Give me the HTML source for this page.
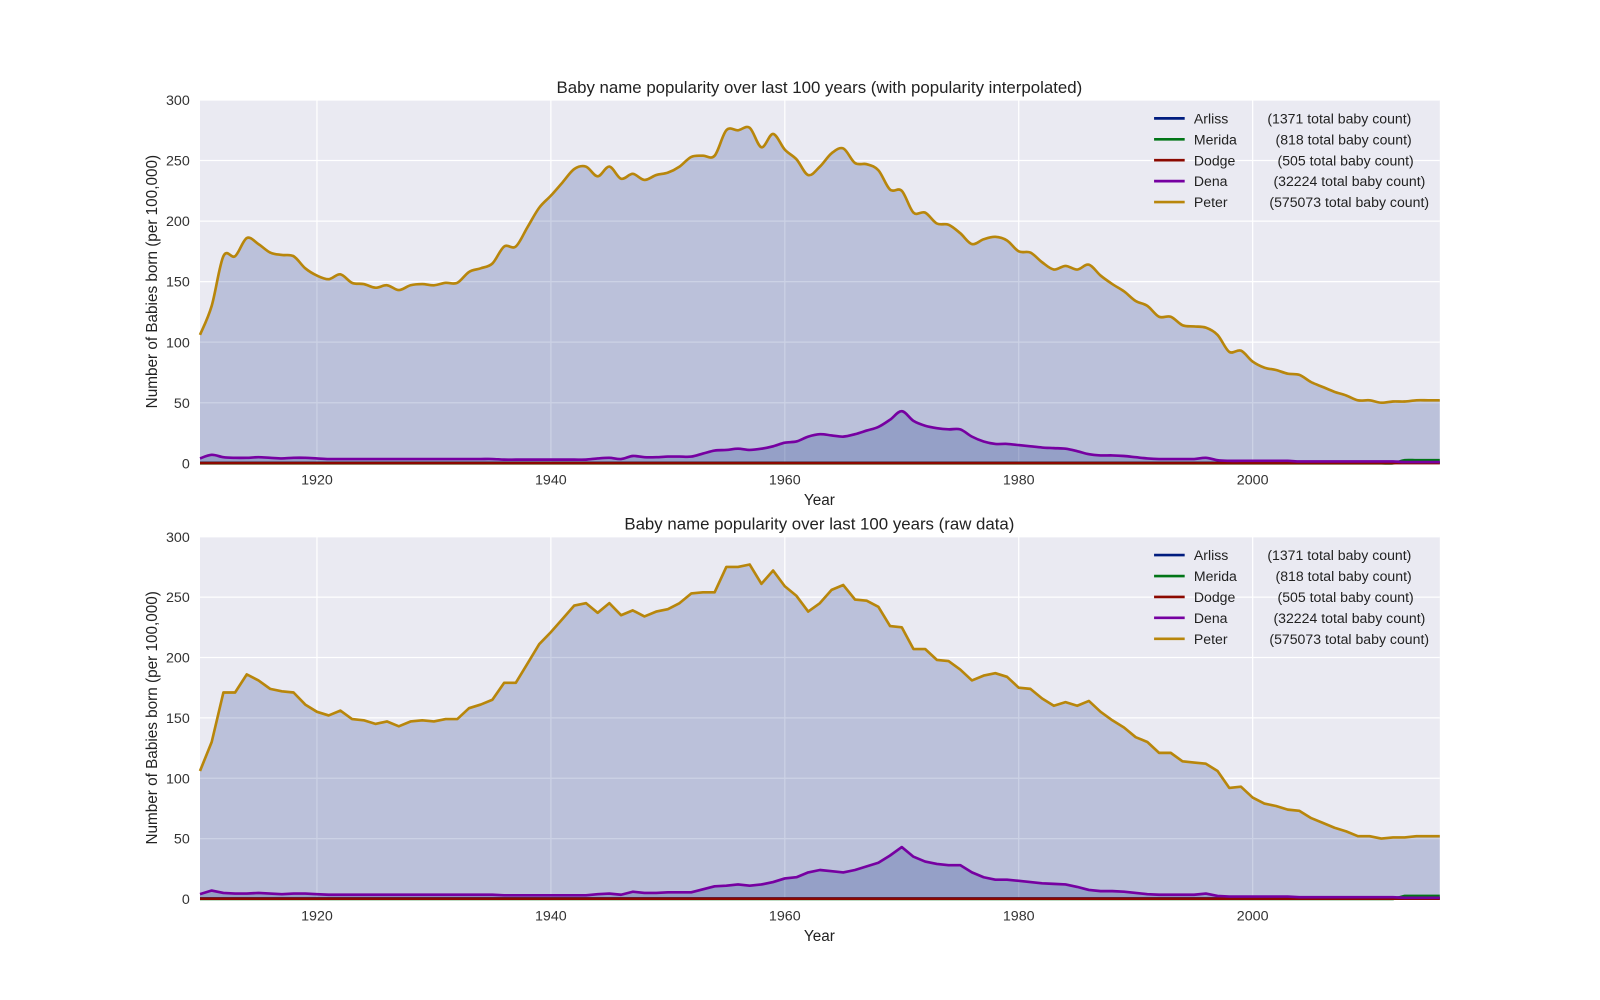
<!DOCTYPE html>
<html><head><meta charset="utf-8">
<style>
body{margin:0;background:#fff;}
svg{display:block;font-family:"Liberation Sans",sans-serif;}
</style></head>
<body>
<svg id="chart" width="1600" height="1000"><g id="root" transform="scale(1.0204)"></g></svg>
<script>
const years = [];
for (let y = 1910; y <= 2016; y++) years.push(y);
const peter = [106,130,171,171,186,181,174,172,171,161,155,152,156,149,148,145,147,143,147,148,147,149,149,158,161,165,179,179,195,211,221,232,243,245,237,245,235,239,234,238,240,245,253,254,254,275,275,277,261,272,259,251,238,245,256,260,248,247,242,226,225,207,207,198,197,190,181,185,187,184,175,174,166,160,163,160,164,155,148,142,134,130,121,121,114,113,112,106,92,93,84,79,77,74,73,67,63,59,56,52,52,50,51,51,52,52,52];
const dena = [4,7,5,4.5,4.5,5,4.5,4,4.5,4.5,4,3.5,3.5,3.5,3.5,3.5,3.5,3.5,3.5,3.5,3.5,3.5,3.5,3.5,3.5,3.5,3,3,3,3,3,3,3,3,4,4.5,3.5,6,5,5,5.5,5.5,5.5,8,10.5,11,12,11,12,14,17,18,22,24,23,22,24,27,30,36,43,35,31,29,28,28,22,18,16,16,15,14,13,12.5,12,10,7.5,6.5,6.5,6,5,4,3.5,3.5,3.5,3.5,4.5,2.5,2,2,2,2,2,2,1.5,1.5,1.5,1.5,1.5,1.5,1.5,1.5,1.5,1,1,1,1];
const merida = years.map(y => y >= 2013 ? 2.5 : 0);
const arliss = years.map(y => 0.4);
const dodge = years.map(y => 0.2);
const xTicks = [1920,1940,1960,1980,2000];
const yTicks = [0,50,100,150,200,250,300];
const legendNames = ["Arliss","Merida","Dodge","Dena","Peter"];
const legendCounts = ["(1371 total baby count)","(818 total baby count)","(505 total baby count)","(32224 total baby count)","(575073 total baby count)"];
const legendCountX = [1242,1250,1252,1248,1244];
const colors = {Arliss:"#001c7f",Merida:"#017517",Dodge:"#8c0900",Dena:"#7600a1",Peter:"#b8860b"};

const NS = "http://www.w3.org/2000/svg";
const svg = document.getElementById("root");
function el(tag, attrs, parent, text) {
  const e = document.createElementNS(NS, tag);
  for (const k in attrs) e.setAttribute(k, attrs[k]);
  if (text !== undefined) e.textContent = text;
  (parent || svg).appendChild(e);
  return e;
}
const X0 = 196, X1 = 1411, Y0 = 1910, Y1 = 2016;
function linePath(xs, ys, smooth) {
  let d = "M" + xs[0] + "," + ys[0];
  if (!smooth) { for (let i = 1; i < xs.length; i++) d += "L" + xs[i] + "," + ys[i]; return d; }
  for (let i = 0; i < xs.length - 1; i++) {
    const p0 = i > 0 ? i - 1 : i, p3 = i + 2 < xs.length ? i + 2 : i + 1;
    const c1x = xs[i] + (xs[i+1] - xs[p0]) / 6, c1y = ys[i] + (ys[i+1] - ys[p0]) / 6;
    const c2x = xs[i+1] - (xs[p3] - xs[i]) / 6, c2y = ys[i+1] - (ys[p3] - ys[i]) / 6;
    d += "C" + c1x + "," + c1y + " " + c2x + "," + c2y + " " + xs[i+1] + "," + ys[i+1];
  }
  return d;
}
function panel(top, bottom, title, smooth, key) {
  const sx = v => X0 + (v - Y0) / (Y1 - Y0) * (X1 - X0);
  const sy = v => bottom - v / 300 * (bottom - top);
  const g = el("g", {}, svg);
  
  
  el("rect", {x:X0, y:top, width:X1-X0, height:bottom-top, fill:"#eaeaf2"}, g);
  xTicks.forEach(t => {
    el("line", {x1:sx(t), x2:sx(t), y1:top, y2:bottom, stroke:"#fff", "stroke-width":1.2}, g);
    const tl = el("text", {x:sx(t), y:bottom+21, "text-anchor":"middle", "font-size":14, fill:"#333"}, g, String(t));
    
    
  });
  yTicks.forEach(t => {
    el("line", {x1:X0, x2:X1, y1:sy(t), y2:sy(t), stroke:"#fff", "stroke-width":1.2}, g);
    const tl = el("text", {x:186, y:sy(t)+5, "text-anchor":"end", "font-size":14, fill:"#333"}, g, String(t));
    
    
  });
  const xs = years.map(sx);
  const fills = [["Peter", peter, "rgba(0,28,127,0.2)"], ["Dena", dena, "rgba(0,28,127,0.2)"]];
  fills.forEach(f => {
    const ys = f[1].map(sy);
    const d = linePath(xs, ys, smooth) + "L" + xs[xs.length-1] + "," + bottom + "L" + xs[0] + "," + bottom + "Z";
    const p = el("path", {d:d, fill:f[2]}, g);
    
    
  });
  const series = {Arliss:arliss, Merida:merida, Dodge:dodge, Dena:dena, Peter:peter};
  for (const n in series) {
    const p = el("path", {d:linePath(xs, series[n].map(sy), smooth), fill:"none", stroke:colors[n], "stroke-width":2.6, "stroke-linejoin":"round"}, g);
    
    
  }
  const t = el("text", {x:803, y:top-7, "text-anchor":"middle", "font-size":16.5, fill:"#222"}, g, title);
  
  
  const xl = el("text", {x:803, y:bottom+41, "text-anchor":"middle", "font-size":15, fill:"#222"}, g, "Year");
  
  
  const cy = (top + bottom) / 2;
  const yl = el("text", {x:154, y:cy, "text-anchor":"middle", "font-size":15, fill:"#222", transform:"rotate(-90 154 " + cy + ")"}, g, "Number of Babies born (per 100,000)");
  
  
  legendNames.forEach((n, i) => {
    const ly = top + 18 + i * 20.5;
    const lg = el("g", {}, g);
    
    
    el("line", {x1:1131, x2:1161, y1:ly, y2:ly, stroke:colors[n], "stroke-width":2.6}, lg);
    el("text", {x:1170, y:ly+5, "font-size":13.8, fill:"#222"}, lg, n);
    el("text", {x:legendCountX[i], y:ly+5, "font-size":13.8, fill:"#222"}, lg, legendCounts[i]);
  });
}
panel(98, 454, "Baby name popularity over last 100 years (with popularity interpolated)", true, "interpolated");
panel(526, 881, "Baby name popularity over last 100 years (raw data)", false, "raw");
</script>
</body></html>
